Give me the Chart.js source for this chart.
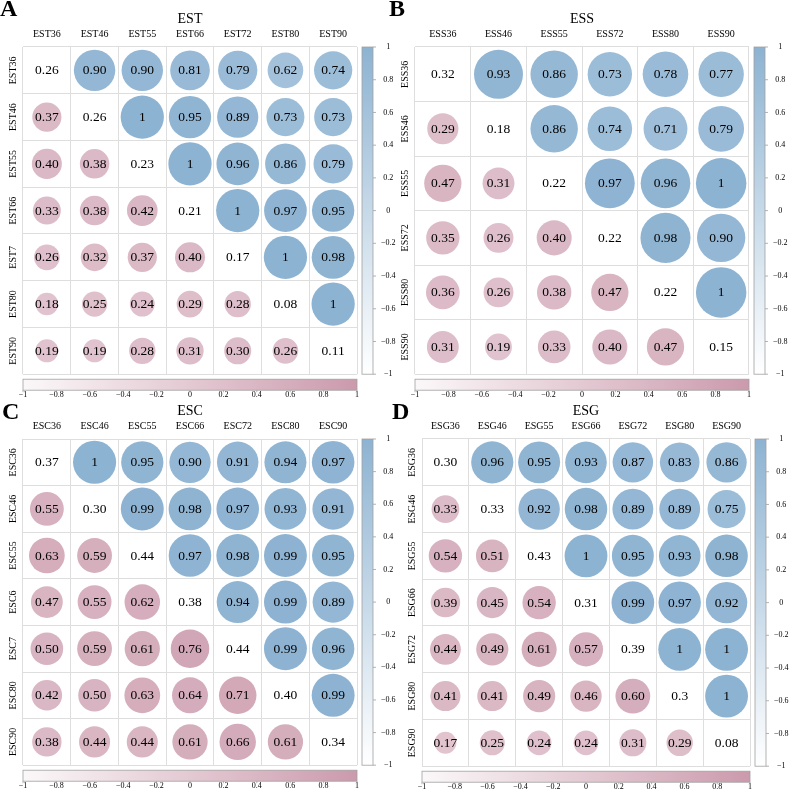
<!DOCTYPE html>
<html lang="en">
<head>
<meta charset="UTF-8">
<title>EST / ESS / ESC / ESG correlation plots</title>
<style>
  body { margin: 0; background: #fff; }
  #page { position: relative; width: 791px; height: 795px; overflow: hidden; }
  canvas { position: absolute; }
  .tag { position: absolute; font: bold 24px "Liberation Serif", serif; line-height: 1; color: #000; }
</style>
<script src="https://cdn.jsdelivr.net/npm/chart.js"></script>
</head>
<body>
<div id="page">
  <canvas id="chartA" width="397" height="403" style="left:0;top:0"></canvas>
  <canvas id="chartB" width="397" height="403" style="left:392px;top:0"></canvas>
  <canvas id="chartC" width="397" height="402" style="left:0;top:392px"></canvas>
  <canvas id="chartD" width="391" height="403" style="left:399px;top:392px"></canvas>
  <div class="tag" style="left:0;top:-4px">A</div>
  <div class="tag" style="left:389px;top:-4px">B</div>
  <div class="tag" style="left:2px;top:399px">C</div>
  <div class="tag" style="left:392px;top:399px">D</div>
</div>
<script>
// ---- data ----
const estCols = ['EST36', 'EST46', 'EST55', 'EST66', 'EST72', 'EST80', 'EST90'];
const estRows = ['EST36', 'EST46', 'EST55', 'EST66', 'EST7', 'EST80', 'EST90'];
const estValues = [
  ['0.26', '0.90', '0.90', '0.81', '0.79', '0.62', '0.74'],
  ['0.37', '0.26', '1', '0.95', '0.89', '0.73', '0.73'],
  ['0.40', '0.38', '0.23', '1', '0.96', '0.86', '0.79'],
  ['0.33', '0.38', '0.42', '0.21', '1', '0.97', '0.95'],
  ['0.26', '0.32', '0.37', '0.40', '0.17', '1', '0.98'],
  ['0.18', '0.25', '0.24', '0.29', '0.28', '0.08', '1'],
  ['0.19', '0.19', '0.28', '0.31', '0.30', '0.26', '0.11']
];

const essCols = ['ESS36', 'ESS46', 'ESS55', 'ESS72', 'ESS80', 'ESS90'];
const essRows = ['ESS36', 'ESS46', 'ESS55', 'ESS72', 'ESS80', 'ESS90'];
const essValues = [
  ['0.32', '0.93', '0.86', '0.73', '0.78', '0.77'],
  ['0.29', '0.18', '0.86', '0.74', '0.71', '0.79'],
  ['0.47', '0.31', '0.22', '0.97', '0.96', '1'],
  ['0.35', '0.26', '0.40', '0.22', '0.98', '0.90'],
  ['0.36', '0.26', '0.38', '0.47', '0.22', '1'],
  ['0.31', '0.19', '0.33', '0.40', '0.47', '0.15']
];

const escCols = ['ESC36', 'ESC46', 'ESC55', 'ESC66', 'ESC72', 'ESC80', 'ESC90'];
const escRows = ['ESC36', 'ESC46', 'ESC55', 'ESC6', 'ESC7', 'ESC80', 'ESC90'];
const escValues = [
  ['0.37', '1', '0.95', '0.90', '0.91', '0.94', '0.97'],
  ['0.55', '0.30', '0.99', '0.98', '0.97', '0.93', '0.91'],
  ['0.63', '0.59', '0.44', '0.97', '0.98', '0.99', '0.95'],
  ['0.47', '0.55', '0.62', '0.38', '0.94', '0.99', '0.89'],
  ['0.50', '0.59', '0.61', '0.76', '0.44', '0.99', '0.96'],
  ['0.42', '0.50', '0.63', '0.64', '0.71', '0.40', '0.99'],
  ['0.38', '0.44', '0.44', '0.61', '0.66', '0.61', '0.34']
];

const esgCols = ['ESG36', 'ESG46', 'ESG55', 'ESG66', 'ESG72', 'ESG80', 'ESG90'];
const esgRows = ['ESG36', 'ESG46', 'ESG55', 'ESG66', 'ESG72', 'ESG80', 'ESG90'];
const esgValues = [
  ['0.30', '0.96', '0.95', '0.93', '0.87', '0.83', '0.86'],
  ['0.33', '0.33', '0.92', '0.98', '0.89', '0.89', '0.75'],
  ['0.54', '0.51', '0.43', '1', '0.95', '0.93', '0.98'],
  ['0.39', '0.45', '0.54', '0.31', '0.99', '0.97', '0.92'],
  ['0.44', '0.49', '0.61', '0.57', '0.39', '1', '1'],
  ['0.41', '0.41', '0.49', '0.46', '0.60', '0.3', '1'],
  ['0.17', '0.25', '0.24', '0.24', '0.31', '0.29', '0.08']
];

const colorbarTicks = { min: -1, max: 1, step: 0.2 };

// ---- styling ----
const FONT = '"Liberation Serif", "Times New Roman", serif';
const blue = [141, 179, 210];
const pink = [203, 154, 172];
const gridColor = '#dedede';
// fixed axis bands round the plot area: left, top, right, bottom
const BAND = { left: 23, top: 47, right: 40, bottom: 25 };

function mixAt(base, t) {
  return 'rgb(' + base.map(c => Math.round(255 - t * (255 - c))).join(',') + ')';
}
function mix(base, v) { return mixAt(base, (v + 1) / 2); }

// bubble radius from the cell size; works before the first layout too
function cellRadius(chart, v, nCols, nRows) {
  const cw = (chart.width - BAND.left - BAND.right) / nCols;
  const ch = (chart.height - BAND.top - BAND.bottom) / nRows;
  return Math.min(cw, ch) / 2 * (0.155 + 0.76 * Math.sqrt(Math.abs(v)));
}

function tickText(v) {
  const r = Math.round(v * 10) / 10;
  return r < 0 ? '\u2212' + Math.abs(r) : String(r);
}

function makePanel(id, title, cols, rows, values) {
  const upper = [], lower = [];
  values.forEach((row, i) => row.forEach((s, j) => {
    const p = { x: j, y: i, v: Number(s) };
    if (j > i) upper.push(p);
    else if (j < i) lower.push(p);
  }));

  const radius = ctx => ctx.raw ? cellRadius(ctx.chart, ctx.raw.v, cols.length, rows.length) : 0;

  const painter = {
    id: 'painter',
    afterDatasetsDraw(chart) {
      const { ctx, chartArea, scales: { x, y, cb, cbx } } = chart;
      ctx.save();
      ctx.fillStyle = '#000';
      ctx.textAlign = 'center';
      ctx.textBaseline = 'middle';
      ctx.font = '13.5px ' + FONT;
      values.forEach((row, i) => row.forEach((s, j) => {
        ctx.fillText(s, x.getPixelForValue(j), y.getPixelForValue(i) + 0.5);
      }));

      // row labels, rotated
      ctx.font = '10px ' + FONT;
      rows.forEach((r, i) => {
        ctx.save();
        ctx.translate(chartArea.left - 10, y.getPixelForValue(i));
        ctx.rotate(-Math.PI / 2);
        ctx.fillText(r, 0, 0);
        ctx.restore();
      });

      // vertical colour bar
      const bx = chartArea.right + 5, bw = 11;
      const yt = cb.getPixelForValue(1), yb = cb.getPixelForValue(-1);
      let g = ctx.createLinearGradient(0, yb, 0, yt);
      g.addColorStop(0, '#ffffff');
      g.addColorStop(1, mixAt(blue, 1));
      ctx.fillStyle = g;
      ctx.fillRect(bx, yt, bw, yb - yt);
      ctx.strokeStyle = '#a0a0a0';
      ctx.lineWidth = 0.8;
      ctx.strokeRect(bx, yt, bw, yb - yt);
      ctx.beginPath();
      cb.ticks.forEach(t => {
        const py = cb.getPixelForValue(t.value);
        ctx.moveTo(bx + bw, py);
        ctx.lineTo(bx + bw + 3, py);
      });
      ctx.stroke();

      // horizontal colour bar
      const by = chartArea.bottom + 5, bh = 11;
      const xl = cbx.getPixelForValue(-1), xr = cbx.getPixelForValue(1);
      g = ctx.createLinearGradient(xl, 0, xr, 0);
      g.addColorStop(0, '#fbf8f9');
      g.addColorStop(1, mixAt(pink, 1));
      ctx.fillStyle = g;
      ctx.fillRect(xl, by, xr - xl, bh);
      ctx.strokeRect(xl, by, xr - xl, bh);
      ctx.beginPath();
      cbx.ticks.forEach(t => {
        const px = cbx.getPixelForValue(t.value);
        ctx.moveTo(px, by + bh);
        ctx.lineTo(px, by + bh + 2);
      });
      ctx.stroke();
      ctx.restore();
    }
  };

  const intTicks = list => axis => { axis.ticks = list.map((_, i) => ({ value: i })); };

  return new Chart(document.getElementById(id), {
    type: 'bubble',
    data: {
      datasets: [
        { data: upper, xAxisID: 'x', yAxisID: 'y', backgroundColor: ctx => ctx.raw ? mix(blue, ctx.raw.v) : mixAt(blue, 1), radius: radius, borderWidth: 0, hoverRadius: 0 },
        { data: lower, xAxisID: 'x', yAxisID: 'y', backgroundColor: ctx => ctx.raw ? mix(pink, ctx.raw.v) : mixAt(pink, 1), radius: radius, borderWidth: 0, hoverRadius: 0 }
      ]
    },
    options: {
      responsive: false,
      animation: false,
      events: [],
      layout: { padding: 0, autoPadding: false },
      plugins: { legend: { display: false }, tooltip: { enabled: false } },
      scales: {
        x: {
          type: 'linear', position: 'top',
          min: -0.5, max: cols.length - 0.5,
          afterBuildTicks: intTicks(cols),
          afterFit: s => { s.height = BAND.top; },
          ticks: { callback: v => cols[v] ?? '', font: { family: FONT, size: 10 }, color: '#000', padding: 7, maxRotation: 0, autoSkip: false },
          grid: { offset: true, color: gridColor, drawTicks: false },
          border: { display: false },
          title: { display: true, text: title, color: '#000', font: { family: FONT, size: 14 }, padding: { top: 11, bottom: 0 } }
        },
        y: {
          type: 'linear', position: 'left', reverse: true,
          min: -0.5, max: rows.length - 0.5,
          afterBuildTicks: intTicks(rows),
          afterFit: s => { s.width = BAND.left; },
          ticks: { display: false },
          grid: { offset: true, color: gridColor, drawTicks: false },
          border: { display: false }
        },
        cb: {
          type: 'linear', position: 'right', axis: 'y',
          min: colorbarTicks.min, max: colorbarTicks.max,
          afterFit: s => { s.width = BAND.right; },
          ticks: { stepSize: colorbarTicks.step, callback: tickText, font: { family: FONT, size: 8 }, color: '#000', crossAlign: 'center', padding: 24 },
          grid: { display: false, drawTicks: false },
          border: { display: false }
        },
        cbx: {
          type: 'linear', position: 'bottom', axis: 'x',
          min: colorbarTicks.min, max: colorbarTicks.max,
          afterFit: s => { s.height = BAND.bottom; },
          ticks: { stepSize: colorbarTicks.step, callback: tickText, font: { family: FONT, size: 8 }, color: '#000', padding: 16, maxRotation: 0, autoSkip: false },
          grid: { display: false, drawTicks: false },
          border: { display: false }
        }
      }
    },
    plugins: [painter]
  });
}

makePanel('chartA', 'EST', estCols, estRows, estValues);
makePanel('chartB', 'ESS', essCols, essRows, essValues);
makePanel('chartC', 'ESC', escCols, escRows, escValues);
makePanel('chartD', 'ESG', esgCols, esgRows, esgValues);
</script>
</body>
</html>
